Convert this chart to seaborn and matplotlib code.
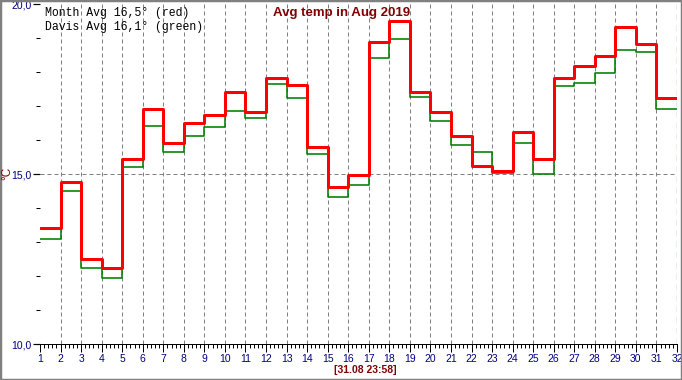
import matplotlib
matplotlib.use("Agg")
import matplotlib.pyplot as plt
import matplotlib.patches as mpatches
from matplotlib.ticker import MultipleLocator, FixedLocator
import numpy as np
import pandas as pd
import seaborn as sns

# Valores diários (dia do mês -> temperatura média em °C)
days = list(range(1, 32))
month_avg = [13.42, 14.77, 12.50, 12.24, 15.44, 16.91, 15.92, 16.50, 16.74, 17.42,
             16.83, 17.82, 17.62, 15.80, 14.63, 14.98, 18.88, 19.51, 17.41, 16.82,
             16.12, 15.24, 15.09, 16.24, 15.45, 17.82, 18.18, 18.47, 19.33, 18.83,
             17.24]
davis_avg = [13.08, 14.49, 12.25, 11.93, 15.20, 16.40, 15.64, 16.11, 16.37, 16.84,
             16.65, 17.64, 17.23, 15.58, 14.31, 14.67, 18.40, 18.96, 17.26, 16.55,
             15.84, 15.64, 15.03, 15.90, 15.00, 17.58, 17.67, 17.96, 18.65, 18.58,
             16.91]
y_ticks = [10, 15, 20]
y_tick_labels = ["10,0", "15,0", "20,0"]
x_ticks = list(range(1, 33))

TITLE = "Avg temp in Aug 2019"
LEGEND_LINES = ["Month Avg 16,5\u00b0 (red)", "Davis Avg 16,1\u00b0 (green)"]
STAMP = "[31.08 23:58]"

NAVY = "#000080"
MAROON = "#800000"
PX = 0.72  # 1 pixel em pontos (dpi 100)

sns.set_theme(style="white")
plt.rcParams.update({
    "font.family": ["Liberation Sans", "DejaVu Sans"],
    "axes.facecolor": "white",
    "figure.facecolor": "white",
})


def steps_frame(values):
    """Repete o último valor no dia 32 para que o degrau final feche o mês."""
    return pd.DataFrame({"day": days + [32], "temp": values + [values[-1]]})


W, H = 682, 380
fig = plt.figure(figsize=(W / 100, H / 100), dpi=100)
ax = fig.add_axes([40 / W, 1 - 344 / H, (677 - 40) / W, (344 - 4) / H])

# grade vertical tracejada (dias 2..31) e linha horizontal em 15
for d in x_ticks[1:-1]:
    ax.axvline(d, color="#808080", lw=PX, linestyle=(0, (4, 3)), zorder=1)
ax.axhline(15, color="#808080", lw=PX, linestyle=(0, (4, 3)), zorder=1)
ax.axvline(32, color="#008000", lw=1.2 * PX, linestyle=(0, (5, 4)), zorder=1)

sns.lineplot(data=steps_frame(davis_avg), x="day", y="temp", ax=ax,
             color="#008000", linewidth=1.6 * PX, drawstyle="steps-post", zorder=3)
sns.lineplot(data=steps_frame(month_avg), x="day", y="temp", ax=ax,
             color="#ff0000", linewidth=3 * PX, drawstyle="steps-post", zorder=4)

ax.set_xlim(1, 32)
ax.set_ylim(10, 20)
ax.set_xlabel("")
ax.set_ylabel("")

for side in ["top", "right", "left"]:
    ax.spines[side].set_visible(False)
ax.spines["bottom"].set_color("black")
ax.spines["bottom"].set_linewidth(PX)

ax.xaxis.set_major_locator(FixedLocator(x_ticks))
ax.xaxis.set_minor_locator(MultipleLocator(0.2))
ax.set_xticklabels([str(d) for d in x_ticks])
ax.yaxis.set_major_locator(FixedLocator(y_ticks))
ax.yaxis.set_minor_locator(MultipleLocator(1))
ax.set_yticklabels(y_tick_labels)

ax.tick_params(axis="x", which="major", bottom=True, length=8 * PX, width=PX,
               color="black", labelsize=7.5, labelcolor=NAVY, pad=1.5)
ax.tick_params(axis="x", which="minor", bottom=True, length=4 * PX, width=PX, color="black")
ax.tick_params(axis="y", which="major", left=True, length=7 * PX, width=1.2 * PX,
               color="black", labelsize=7.5, labelcolor=NAVY, pad=1)
ax.tick_params(axis="y", which="minor", left=True, length=4 * PX, width=PX, color="black")

# textos
fig.text(341.5 / W, 1 - 13 / H, TITLE, ha="center", va="center",
         fontsize=9.5, fontweight="bold", color=MAROON)
for i, line in enumerate(LEGEND_LINES):
    fig.text(45 / W, 1 - (13 + 14 * i) / H, line, ha="left", va="center",
             fontsize=8.3, family=["Liberation Mono", "DejaVu Sans Mono"], color="black")
fig.text(365.5 / W, 1 - 370 / H, STAMP, ha="center", va="center",
         fontsize=7.5, fontweight="bold", color=MAROON)
fig.text(7 / W, 1 - 173 / H, "\u00b0C", ha="center", va="center", rotation=90,
         fontsize=8.5, color=MAROON)

# moldura cinza da imagem
fig.patches.append(mpatches.Rectangle((0, 0), 1, 1, transform=fig.transFigure,
                                      fill=False, edgecolor="#808080", lw=2.5))

fig.savefig("out.png", dpi=100, facecolor="white")
